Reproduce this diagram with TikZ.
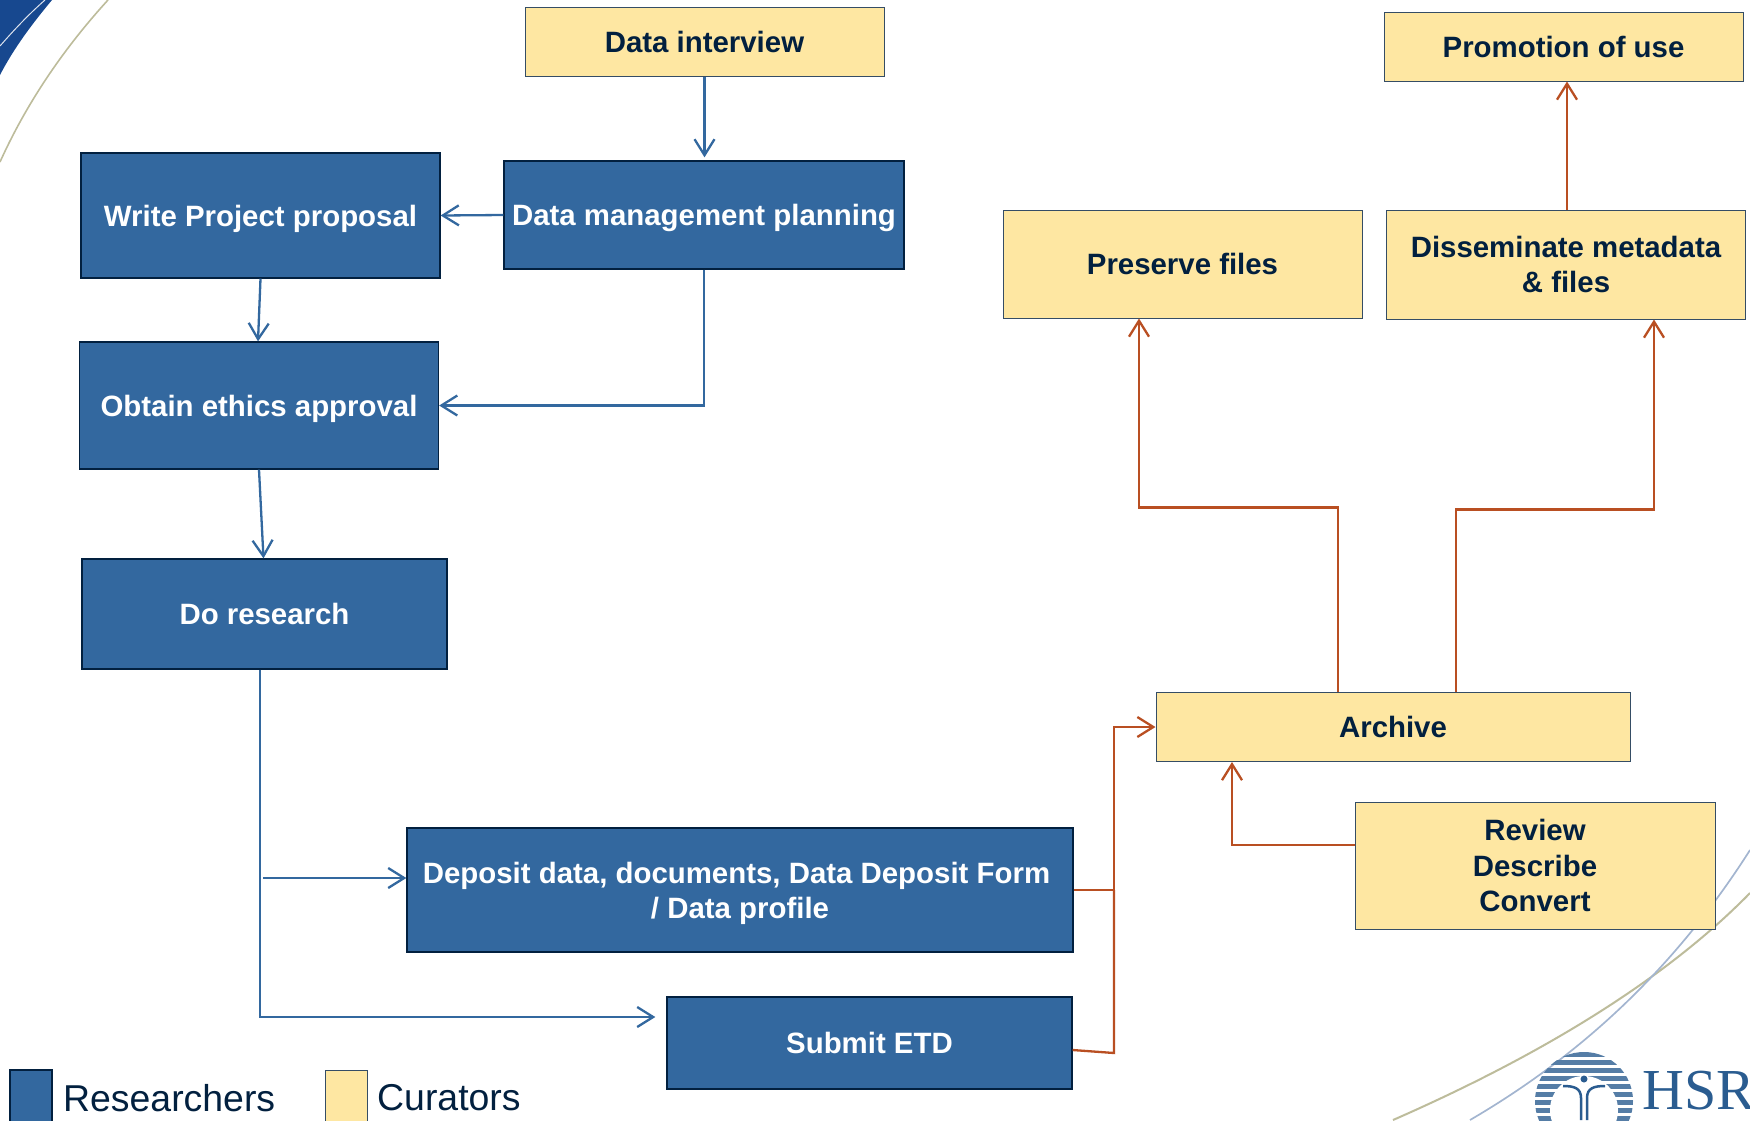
\documentclass[tikz,border=0pt]{standalone}
\usepackage{fontspec}
\setmainfont{Liberation Sans}
\newfontfamily\logofont{Liberation Serif}
\usetikzlibrary{arrows.meta}

\definecolor{resblue}{HTML}{33689F}
\definecolor{curyellow}{HTML}{FEE7A2}
\definecolor{inkblue}{HTML}{02203F}
\definecolor{redline}{HTML}{B94F22}
\definecolor{tanline}{HTML}{BDBC9B}
\definecolor{paleline}{HTML}{A3B5D0}
\definecolor{cornerblue}{HTML}{17488F}
\definecolor{logoblue}{HTML}{2A5C90}

\tikzset{
	researcher/.style={draw=inkblue, line width=1.3pt, fill=resblue, text=white, inner sep=0pt, align=center,
		text depth=0pt, font=\fontsize{29.4}{35.2}\selectfont\bfseries},
	curator/.style={draw=inkblue!80, line width=1pt, fill=curyellow, text=inkblue, inner sep=0pt, align=center,
		text depth=0pt, font=\fontsize{29.4}{35.2}\selectfont\bfseries},
	legend/.style={text=inkblue, inner sep=0pt, anchor=west, font=\fontsize{37.4}{44}\selectfont},
	blueline/.style={draw=resblue, line width=2.3pt},
	redarrow/.style={draw=redline, line width=2.3pt},
	open/.style={-{Straight Barb[length=16pt,width=20pt,line width=2.3pt]}},
}

\begin{document}
\begin{tikzpicture}[x=1pt,y=-1pt]
\useasboundingbox (0,0) rectangle (1750,1120);
\clip (0,0) rectangle (1750,1120);

% background
\fill[cornerblue] (0,75) .. controls (14,48) and (32,24) .. (52,0) -- (0,0) -- cycle;
\draw[white!85!cornerblue, line width=1pt] (0,46) .. controls (14,30) and (28,15) .. (45,0);
\draw[tanline, line width=1.6pt] (0,162) .. controls (28,100) and (66,46) .. (108,0);
\draw[tanline, line width=2pt] (1393,1120) .. controls (1530,1060) and (1660,985) .. (1750,893);
\draw[paleline, line width=1.7pt] (1470,1120) .. controls (1590,1050) and (1680,960) .. (1750,850);

% logo
\begin{scope}
\clip (1584,1101) circle (49);
\foreach \y in {1052,1060,...,1124}
	\fill[logoblue!80] (1530,\y) rectangle (1640,\y+4.5);
\end{scope}
\fill[white] (1584,1110) circle (34);
\fill[logoblue] (1584,1079) circle (3.5);
\draw[logoblue, line width=2.5pt] (1563,1086) .. controls (1574,1086) and (1581,1088) .. (1581,1098) -- (1581,1120);
\draw[logoblue, line width=2.5pt] (1605,1086) .. controls (1594,1086) and (1587,1088) .. (1587,1098) -- (1587,1120);
\node[inner sep=0pt, anchor=base west, text=logoblue, font=\logofont\fontsize{58}{58}\selectfont] (hsr) at (1642,1109) {HSR};

% curators
\node[curator, minimum width=359pt, minimum height=69pt] (interview) at (704.5,41.5) {Data interview};
\node[curator, minimum width=359pt, minimum height=69pt] (promotion) at (1563.5,46.5) {Promotion of use};
\node[curator, minimum width=359pt, minimum height=108pt] (preserve) at (1182.5,264) {Preserve files};
\node[curator, minimum width=359pt, minimum height=109pt] (disseminate) at (1566,264.5) {Disseminate metadata\\\& files};
\node[curator, minimum width=474pt, minimum height=69pt] (archive) at (1393,727) {Archive};
\node[curator, minimum width=360pt, minimum height=127pt] (review) at (1535,865.5) {Review\\Describe\\Convert};

% researchers
\node[researcher, minimum width=400pt, minimum height=108pt] (planning) at (704,215) {Data management planning};
\node[researcher, minimum width=359pt, minimum height=125pt] (proposal) at (260.5,215.5) {Write Project proposal};
\node[researcher, minimum width=359pt, minimum height=127pt] (ethics) at (259,405.5) {Obtain ethics approval};
\node[researcher, minimum width=365pt, minimum height=110pt] (research) at (264.5,614) {Do research};
\node[researcher, minimum width=666pt, minimum height=124pt] (deposit) at (740,890) {Deposit data, documents, Data Deposit Form\hspace*{7pt}\\/ Data profile};
\node[researcher, minimum width=405pt, minimum height=92pt] (etd) at (869.5,1043) {Submit ETD};

% legend
\node[researcher, minimum width=42pt, minimum height=60pt] (keyblue) at (31,1100) {};
\node[legend] (keyresearchers) at (63,1098) {Researchers};
\node[curator, minimum width=42pt, minimum height=60pt] (keyyellow) at (346,1100) {};
\node[legend] (keycurators) at (377,1098) {Curators};

% researcher flow
\coordinate (branchstart) at (263,878);
\draw[blueline, open] (interview.south) -- ([xshift=0.5pt,yshift=3pt]planning.north);
\draw[blueline, open] (planning.west) -- (proposal.east);
\draw[blueline, open] (proposal.south) -- ([xshift=-1pt]ethics.north);
\draw[blueline, open] (planning.south) |- (ethics.east);
\draw[blueline, open] (ethics.south) -- ([xshift=-1pt]research.north);
\draw[blueline, open] ([xshift=-4.5pt]research.south) |- ([xshift=-11pt,yshift=26pt]etd.west);
\draw[blueline, open] (branchstart) -- ([yshift=12pt]deposit.west);

% curator flow
\coordinate (depositjoin) at (1114,890);
\coordinate (etdjoin) at (1114,1053);
\draw[redarrow, open] (deposit.east) -- (depositjoin) |- (archive.west);
\draw[redarrow] ([yshift=-7pt]etd.east) -- (etdjoin) -- (depositjoin);
\draw[redarrow, open] ([yshift=20.5pt]review.west) -| ([xshift=-161pt]archive.south);
\draw[redarrow, open] ([xshift=-55pt]archive.north) -- ++(0,-184.5) -| ([xshift=-43.5pt]preserve.south);
\draw[redarrow, open] ([xshift=63pt]archive.north) -- ++(0,-182.5) -| ([xshift=88pt]disseminate.south);
\draw[redarrow, open] ([xshift=1pt]disseminate.north) -- ([xshift=3.5pt]promotion.south);
\end{tikzpicture}
\end{document}
